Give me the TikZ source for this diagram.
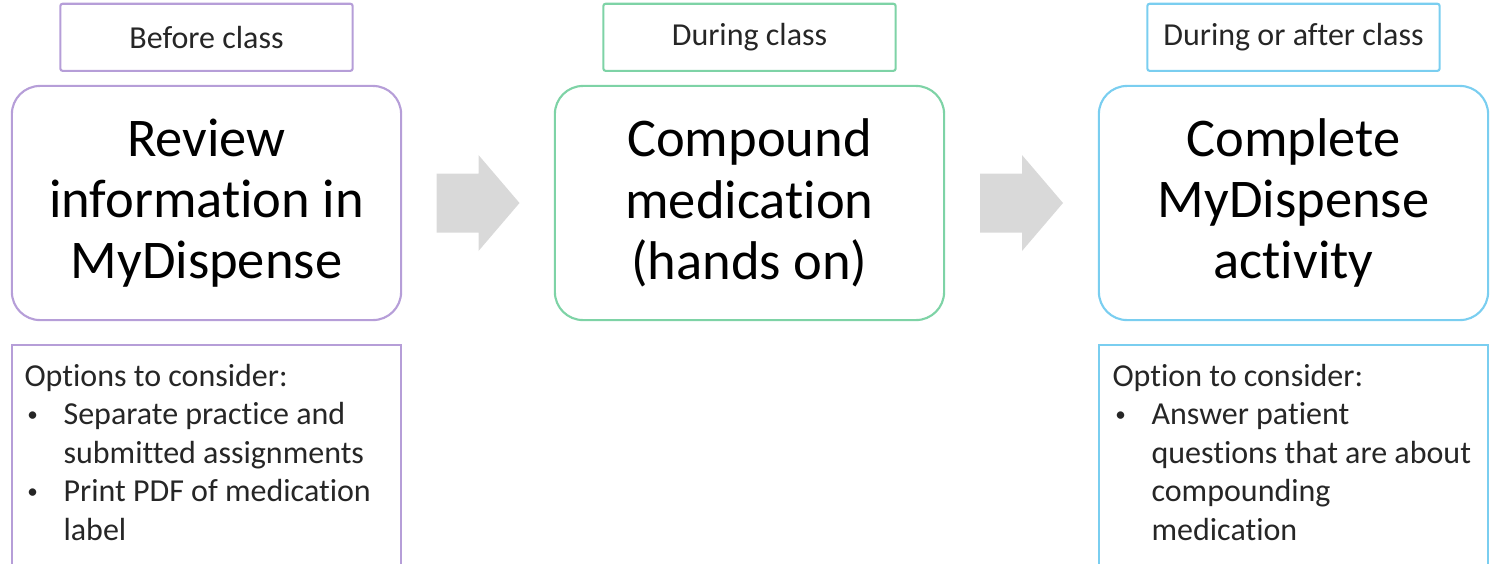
\documentclass[tikz,border=0pt]{standalone}
\usepackage{fontspec}
\setmainfont{Carlito}[Ligatures=NoCommon]
\usetikzlibrary{calc,positioning}

\definecolor{lavender}{RGB}{182,158,216}
\definecolor{mint}{RGB}{126,211,166}
\definecolor{sky}{RGB}{122,206,240}
\definecolor{arrowgray}{RGB}{217,217,217}

\newcommand{\optbullet}{\makebox[11.1pt][l]{\hspace{0.8pt}\raisebox{1pt}{\fontsize{6}{6}\selectfont\textbullet}}}
\newcommand{\optindent}{\hspace*{11.1pt}}

\begin{document}
\begin{tikzpicture}[x=0.01cm,y=-0.01cm,
    stage/.style={draw,line width=0.6pt,rounded corners=8pt,minimum width=3.89cm,minimum height=2.34cm,
        align=center,font=\fontsize{15.5}{17.4}\selectfont},
    when/.style={draw,line width=0.6pt,rounded corners=0.6pt,minimum width=2.92cm,minimum height=0.67cm,
        text=black!85,font=\fontsize{9.1}{10.95}\selectfont},
    optbox/.style={draw,line width=0.6pt,minimum width=3.89cm,minimum height=2.3cm,inner sep=0pt},
    opttext/.style={anchor=north west,inner sep=0pt,align=left,text=black!85,font=\fontsize{9.1}{10.95}\selectfont}]
\useasboundingbox (0,0) rectangle (1490,563);

\node[stage,draw=lavender] (review) at (206.5,203) {Review\\information in\\MyDispense};
\node[stage,draw=mint] (compound) at (749.5,203) {Compound\\medication\\(hands on)};
\node[stage,draw=sky] (complete) at (1293.5,203) {Complete\\MyDispense\\activity};

\node[when,draw=lavender,above=0.13cm of review] (before) {Before class};
\node[when,draw=mint,above=0.13cm of compound] (during) {During class};
\node[when,draw=sky,above=0.13cm of complete] (after) {During or after class};

\node[optbox,draw=lavender,below=0.23cm of review] (optsleft) {};
\node[optbox,draw=sky,below=0.23cm of complete] (optsright) {};
\node[opttext] (optslefttext) at ([shift={(0.13cm,-0.19cm)}]optsleft.north west)
    {Options to consider:\\
     \optbullet Separate practice and\\
     \optindent submitted assignments\\
     \optbullet Print PDF of medication\\
     \optindent label};
\node[opttext] (optsrighttext) at ([shift={(0.14cm,-0.19cm)}]optsright.north west)
    {Option to consider:\\
     \optbullet Answer patient\\
     \optindent questions that are about\\
     \optindent compounding\\
     \optindent medication};

\coordinate (gapone) at ($(review.east)!0.5!(compound.west)$);
\coordinate (gaptwo) at ($(compound.east)!0.5!(complete.west)$);
\fill[arrowgray] (gapone) ++(-41.5,-29.5) -- ++(42,0) -- ++(0,-18.5) -- ++(41,48) -- ++(-41,48) -- ++(0,-18.5) -- ++(-42,0) -- cycle;
\fill[arrowgray] (gaptwo) ++(-41.5,-29.5) -- ++(42,0) -- ++(0,-18.5) -- ++(41,48) -- ++(-41,48) -- ++(0,-18.5) -- ++(-42,0) -- cycle;
\end{tikzpicture}
\end{document}
